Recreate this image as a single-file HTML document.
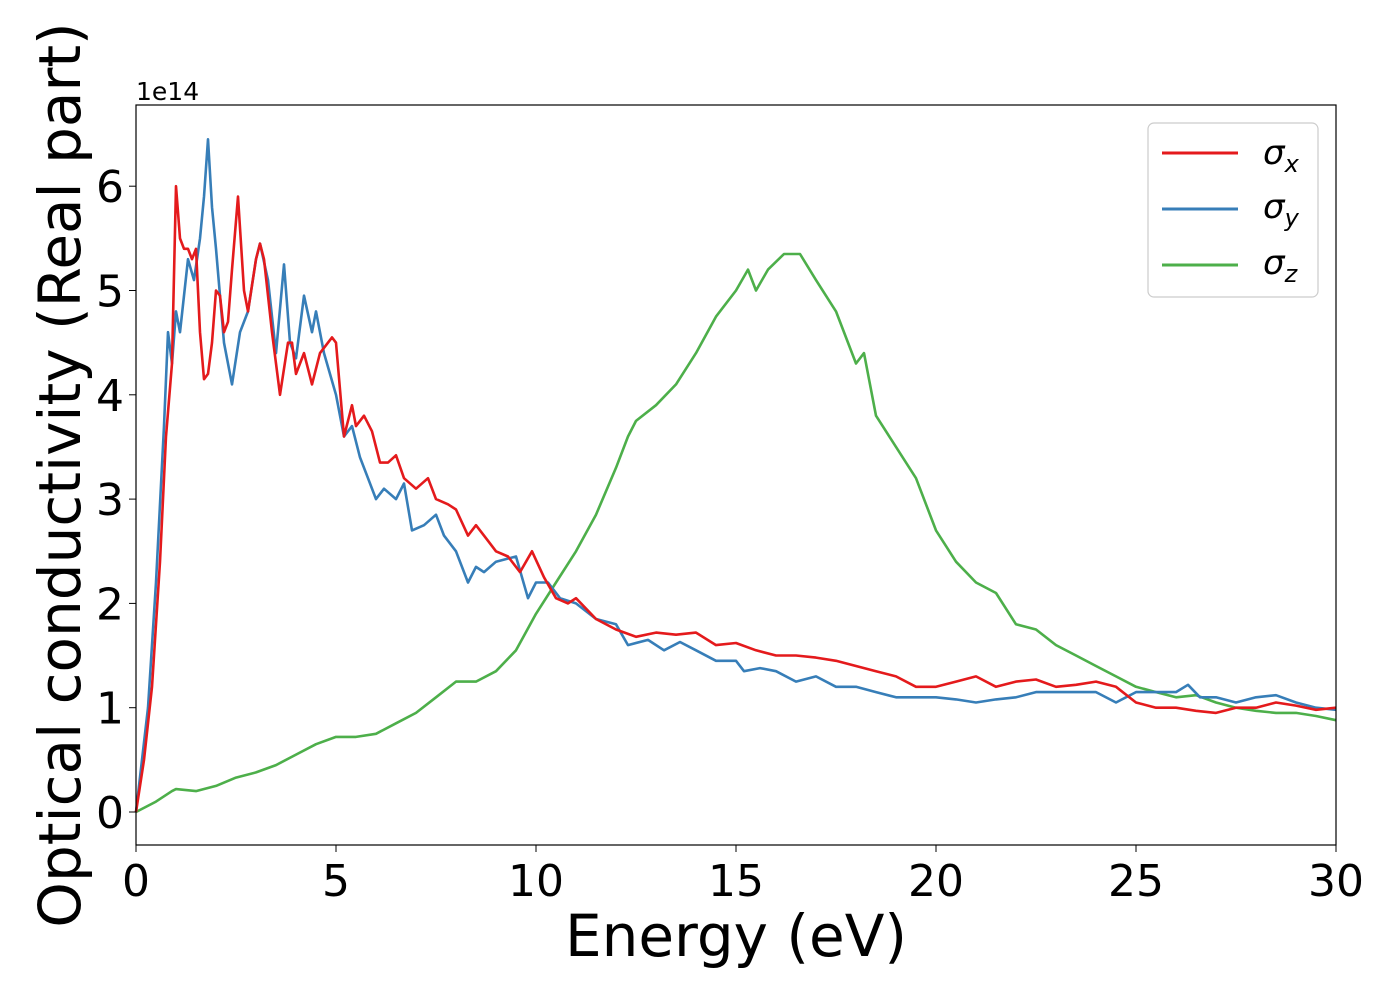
<!DOCTYPE html>
<html><head><meta charset="utf-8"><style>
body{margin:0;background:#fff}
svg text{font-family:"DejaVu Sans","Liberation Sans",sans-serif;fill:#000}
</style></head><body>
<svg id="chart" width="1400" height="1000" xmlns="http://www.w3.org/2000/svg">
<rect x="0" y="0" width="1400" height="1000" fill="#fff"/>
<g id="marks"></g>
<rect x="136" y="105" width="1200" height="740" fill="none" stroke="#000" stroke-width="1.2"/>
<g id="ticks"></g>
<text x="136" y="100" font-size="25">1e14</text>
<text x="736" y="956" font-size="58" text-anchor="middle">Energy (eV)</text>
<text transform="translate(80,475) rotate(-90)" font-size="58" text-anchor="middle">Optical conductivity (Real part)</text>
<g>
<rect x="1148" y="123" width="170" height="174" rx="6" fill="#fff" stroke="#ccc" stroke-width="1.2"/>
<g><line x1="1162" y1="153" x2="1238" y2="153" stroke="#e41a1c" stroke-width="3"/><text x="1263" y="164" font-size="34" font-style="italic">σ<tspan font-size="24" dy="8">x</tspan></text></g>
<g><line x1="1162" y1="209" x2="1238" y2="209" stroke="#377eb8" stroke-width="3"/><text x="1263" y="218" font-size="34" font-style="italic">σ<tspan font-size="24" dy="8">y</tspan></text></g>
<g><line x1="1162" y1="265" x2="1238" y2="265" stroke="#4daf4a" stroke-width="3"/><text x="1263" y="274" font-size="34" font-style="italic">σ<tspan font-size="24" dy="8">z</tspan></text></g>
</g>
</svg>
<script>
const xTicks=[0,5,10,15,20,25,30];
const yTicks=[0,1,2,3,4,5,6];
const ex=[0,0.2,0.4,0.6,0.75,0.9,1.0,1.1,1.2,1.3,1.4,1.5,1.6,1.7,1.8,1.9,2.0,2.1,2.2,2.3,2.4,2.55,2.7,2.8,3.0,3.1,3.2,3.4,3.6,3.8,3.9,4.0,4.2,4.4,4.6,4.9,5.0,5.2,5.4,5.5,5.7,5.9,6.1,6.3,6.5,6.7,7.0,7.3,7.5,7.8,8.0,8.3,8.5,8.8,9.0,9.3,9.6,9.9,10.2,10.5,10.8,11.0,11.5,12.0,12.5,13.0,13.5,14.0,14.5,15.0,15.5,16.0,16.5,17.0,17.5,18.0,18.5,19.0,19.5,20.0,20.5,21.0,21.5,22.0,22.5,23.0,23.5,24.0,24.5,25.0,25.5,26.0,26.5,27.0,27.5,28.0,28.5,29.0,29.5,30];
const sx=[0,0.5,1.2,2.4,3.6,4.3,6.0,5.5,5.4,5.4,5.3,5.4,4.6,4.15,4.2,4.5,5.0,4.95,4.6,4.7,5.2,5.9,5.0,4.8,5.3,5.45,5.3,4.6,4.0,4.5,4.5,4.2,4.4,4.1,4.4,4.55,4.5,3.6,3.9,3.7,3.8,3.65,3.35,3.35,3.42,3.2,3.1,3.2,3.0,2.95,2.9,2.65,2.75,2.6,2.5,2.45,2.3,2.5,2.25,2.05,2.0,2.05,1.85,1.75,1.68,1.72,1.7,1.72,1.6,1.62,1.55,1.5,1.5,1.48,1.45,1.4,1.35,1.3,1.2,1.2,1.25,1.3,1.2,1.25,1.27,1.2,1.22,1.25,1.2,1.05,1.0,1.0,0.97,0.95,1.0,1.0,1.05,1.02,0.98,1.0];
const ey=[0,0.3,0.5,0.7,0.8,0.9,1.0,1.1,1.3,1.45,1.6,1.7,1.8,1.9,2.0,2.2,2.4,2.6,2.8,3.0,3.1,3.3,3.5,3.7,3.85,4.0,4.2,4.4,4.5,4.7,5.0,5.2,5.4,5.6,5.8,6.0,6.2,6.5,6.7,6.9,7.2,7.5,7.7,8.0,8.3,8.5,8.7,9.0,9.5,9.8,10.0,10.3,10.6,11.0,11.5,12.0,12.3,12.8,13.2,13.6,14.0,14.5,15.0,15.2,15.6,16.0,16.5,17.0,17.5,18.0,18.5,19.0,19.5,20.0,20.5,21.0,21.5,22.0,22.5,23.0,23.5,24.0,24.5,25.0,25.5,26.0,26.3,26.6,27.0,27.5,28.0,28.5,29.0,29.5,30];
const sy=[0,1.0,2.2,3.7,4.6,4.3,4.8,4.6,5.3,5.1,5.5,5.9,6.45,5.8,5.4,4.5,4.1,4.6,4.8,5.3,5.45,5.1,4.4,5.25,4.5,4.35,4.95,4.6,4.8,4.4,4.0,3.6,3.7,3.4,3.2,3.0,3.1,3.0,3.15,2.7,2.75,2.85,2.65,2.5,2.2,2.35,2.3,2.4,2.45,2.05,2.2,2.2,2.05,2.0,1.85,1.8,1.6,1.65,1.55,1.63,1.55,1.45,1.45,1.35,1.38,1.35,1.25,1.3,1.2,1.2,1.15,1.1,1.1,1.1,1.08,1.05,1.08,1.1,1.15,1.15,1.15,1.15,1.05,1.15,1.15,1.15,1.22,1.1,1.1,1.05,1.1,1.12,1.05,1.0,0.98];
const ez=[0,0.5,0.9,1.0,1.5,2.0,2.5,3.0,3.5,4.0,4.5,5.0,5.5,6.0,6.5,7.0,7.5,8.0,8.5,9.0,9.5,10.0,10.5,11.0,11.5,12.0,12.3,12.5,13.0,13.5,14.0,14.5,15.0,15.3,15.5,15.8,16.2,16.6,17.0,17.5,18.0,18.2,18.5,19.0,19.5,20.0,20.5,21.0,21.5,22.0,22.5,23.0,23.5,24.0,24.5,25.0,25.5,26.0,26.5,27.0,27.5,28.0,28.5,29.0,29.5,30];
const sz=[0,0.1,0.2,0.22,0.2,0.25,0.33,0.38,0.45,0.55,0.65,0.72,0.72,0.75,0.85,0.95,1.1,1.25,1.25,1.35,1.55,1.9,2.2,2.5,2.85,3.3,3.6,3.75,3.9,4.1,4.4,4.75,5.0,5.2,5.0,5.2,5.35,5.35,5.1,4.8,4.3,4.4,3.8,3.5,3.2,2.7,2.4,2.2,2.1,1.8,1.75,1.6,1.5,1.4,1.3,1.2,1.15,1.1,1.12,1.05,1.0,0.97,0.95,0.95,0.92,0.88];
const X=v=>136+v*40, Y=v=>812-v*104.3;
const NS="http://www.w3.org/2000/svg";
const marks=document.getElementById('marks'), ticks=document.getElementById('ticks');
function line(xs,ys,color,name){
  const p=document.createElementNS(NS,'polyline');
  p.setAttribute('points',xs.map((e,i)=>X(e).toFixed(1)+','+Y(ys[i]).toFixed(1)).join(' '));
  p.setAttribute('fill','none');p.setAttribute('stroke',color);p.setAttribute('stroke-width','2.6');p.setAttribute('stroke-linejoin','round');
  
  
  marks.appendChild(p);
}
line(ez,sz,'#4daf4a','series-sigma-z');
line(ey,sy,'#377eb8','series-sigma-y');
line(ex,sx,'#e41a1c','series-sigma-x');
xTicks.forEach(t=>{
  const l=document.createElementNS(NS,'line');
  l.setAttribute('x1',X(t));l.setAttribute('x2',X(t));l.setAttribute('y1',845);l.setAttribute('y2',852);l.setAttribute('stroke','#000');
  
  
  ticks.appendChild(l);
  const s=document.createElementNS(NS,'text');
  s.setAttribute('x',X(t));s.setAttribute('y',896);s.setAttribute('font-size','44');s.setAttribute('text-anchor','middle');s.textContent=t;
  
  
  ticks.appendChild(s);
});
yTicks.forEach(t=>{
  const l=document.createElementNS(NS,'line');
  l.setAttribute('x1',129);l.setAttribute('x2',136);l.setAttribute('y1',Y(t));l.setAttribute('y2',Y(t));l.setAttribute('stroke','#000');
  
  
  ticks.appendChild(l);
  const s=document.createElementNS(NS,'text');
  s.setAttribute('x',124);s.setAttribute('y',Y(t)+16);s.setAttribute('font-size','44');s.setAttribute('text-anchor','end');s.textContent=t;
  
  
  ticks.appendChild(s);
});
</script>
</body></html>
